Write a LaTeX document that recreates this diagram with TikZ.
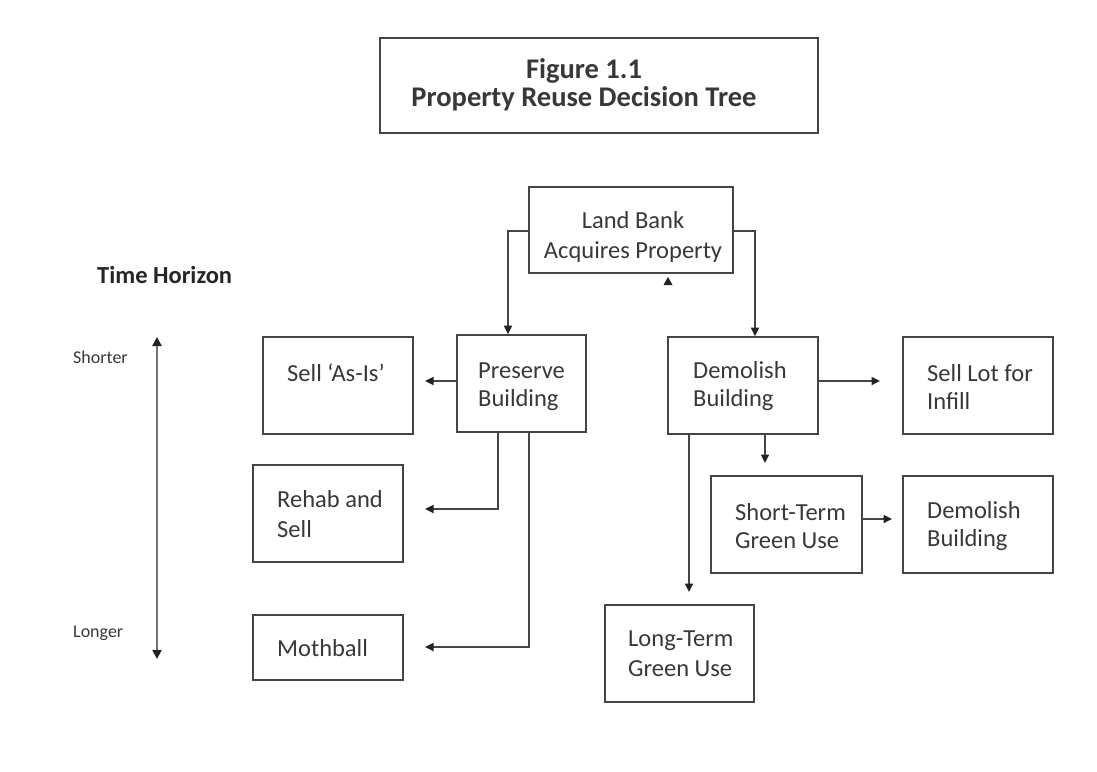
\documentclass[tikz,border=0pt]{standalone}
\usepackage{fontspec}
\setmainfont{Carlito}
\usetikzlibrary{arrows.meta}
\definecolor{ink}{HTML}{383838}
\definecolor{linec}{HTML}{454545}
\definecolor{tipc}{HTML}{222222}
\begin{document}
\begin{tikzpicture}[x=1pt,y=-1pt,
  box/.style={draw=linec, line width=1.7pt, inner sep=0pt},
  txt/.style={text=ink, inner sep=0pt, font=\fontsize{24.5}{30}\selectfont, align=center},
  ltxt/.style={txt, align=left, anchor=west},
  arr/.style={draw=linec, line width=1.7pt, -{Triangle[length=8.5pt,width=8pt,color=tipc]}},
  timearr/.style={draw=black!55, line width=2.6pt,
    {Triangle[length=9pt,width=9pt,color=tipc]}-{Triangle[length=9pt,width=9pt,color=tipc]}},
]
\useasboundingbox[fill=white] (0,0) rectangle (1097,771);

% boxes
\node[box, minimum width=438pt, minimum height=95pt] (title) at (599,85.5) {};
\node[txt, font=\bfseries\fontsize{28.5}{28.5}\selectfont] (titleT) at (584,84.5)
  {Figure 1.1\\Property Reuse Decision Tree};

\node[box, minimum width=204pt, minimum height=86pt] (land) at (631,230) {};
\node[txt] (landT) at (633,237) {Land Bank\\Acquires Property};

\node[box, minimum width=129pt, minimum height=97pt] (pres) at (521.5,383.5) {};
\node[ltxt, font=\fontsize{24.5}{28}\selectfont] (presT) at (478,386.5) {Preserve\\Building};

\node[box, minimum width=150pt, minimum height=97pt] (sellas) at (338,385.5) {};
\node[ltxt] (sellasT) at (287,372.5) {Sell ‘As-Is’};

\node[box, minimum width=150pt, minimum height=97pt] (rehab) at (328,513.5) {};
\node[ltxt] (rehabT) at (277,514) {Rehab and\\Sell};

\node[box, minimum width=150pt, minimum height=65pt] (moth) at (328,647.5) {};
\node[ltxt] (mothT) at (277,648) {Mothball};

\node[box, minimum width=150pt, minimum height=97pt] (dem) at (743,385.5) {};
\node[ltxt, font=\fontsize{24.5}{28}\selectfont] (demT) at (693,386.5) {Demolish\\Building};

\node[box, minimum width=150pt, minimum height=97pt] (lot) at (978,385.5) {};
\node[ltxt, font=\fontsize{24.5}{28}\selectfont] (lotT) at (927,386.5) {Sell Lot for\\Infill};

\node[box, minimum width=151pt, minimum height=97pt] (short) at (786.5,524.5) {};
\node[ltxt, font=\fontsize{24.5}{28}\selectfont] (shortT) at (735,526) {Short-Term\\Green Use};

\node[box, minimum width=150pt, minimum height=97pt] (dem2) at (978,524.5) {};
\node[ltxt, font=\fontsize{24.5}{28}\selectfont] (dem2T) at (927,526) {Demolish\\Building};

\node[box, minimum width=149pt, minimum height=97pt] (long) at (679.5,653.5) {};
\node[ltxt] (longT) at (628,653.5) {Long-Term\\Green Use};

% time horizon
\node[font=\bfseries\fontsize{24.5}{28}\selectfont, text=black!85, anchor=west, inner sep=0pt] (th) at (97,275) {Time Horizon};
\node[font=\fontsize{18}{20}\selectfont, text=ink, anchor=west, inner sep=0pt] (lshort) at (73,357) {Shorter};
\node[font=\fontsize{18}{20}\selectfont, text=ink, anchor=west, inner sep=0pt] (llong) at (73,633) {Longer};
\coordinate (thTop) at (157,337);
\coordinate (thBot) at (157,659);
\draw[timearr] (thTop) -- (thBot);

% free arrow ends
\coordinate (tSell) at (425,381);
\coordinate (tRehab) at (425,509);
\coordinate (tMoth) at (425,647);
\coordinate (tLot) at (880,381);
\coordinate (tShort) at (765,463);
\coordinate (tLong) at (689,592);
\coordinate (tDem2) at (892,519);

% connectors
\draw[arr] (land.west |- 0,231) -| (pres.north -| 508,0);
\draw[arr] (land.east |- 0,231) -| (dem.north -| 755,0);
\draw[arr] (pres.west |- tSell) -- (tSell);
\draw[arr] (pres.south -| 498,0) |- (tRehab);
\draw[arr] (pres.south -| 529,0) |- (tMoth);
\draw[arr] (dem.east |- tLot) -- (tLot);
\draw[arr] (dem.south -| tShort) -- (tShort);
\draw[arr] (dem.south -| tLong) -- (tLong);
\draw[arr] (short.east |- tDem2) -- (tDem2);

% small stray arrowhead below the land bank box
\fill[tipc] (663.5,285) -- (672.5,285) -- (668,277) -- cycle;
\end{tikzpicture}
\end{document}
